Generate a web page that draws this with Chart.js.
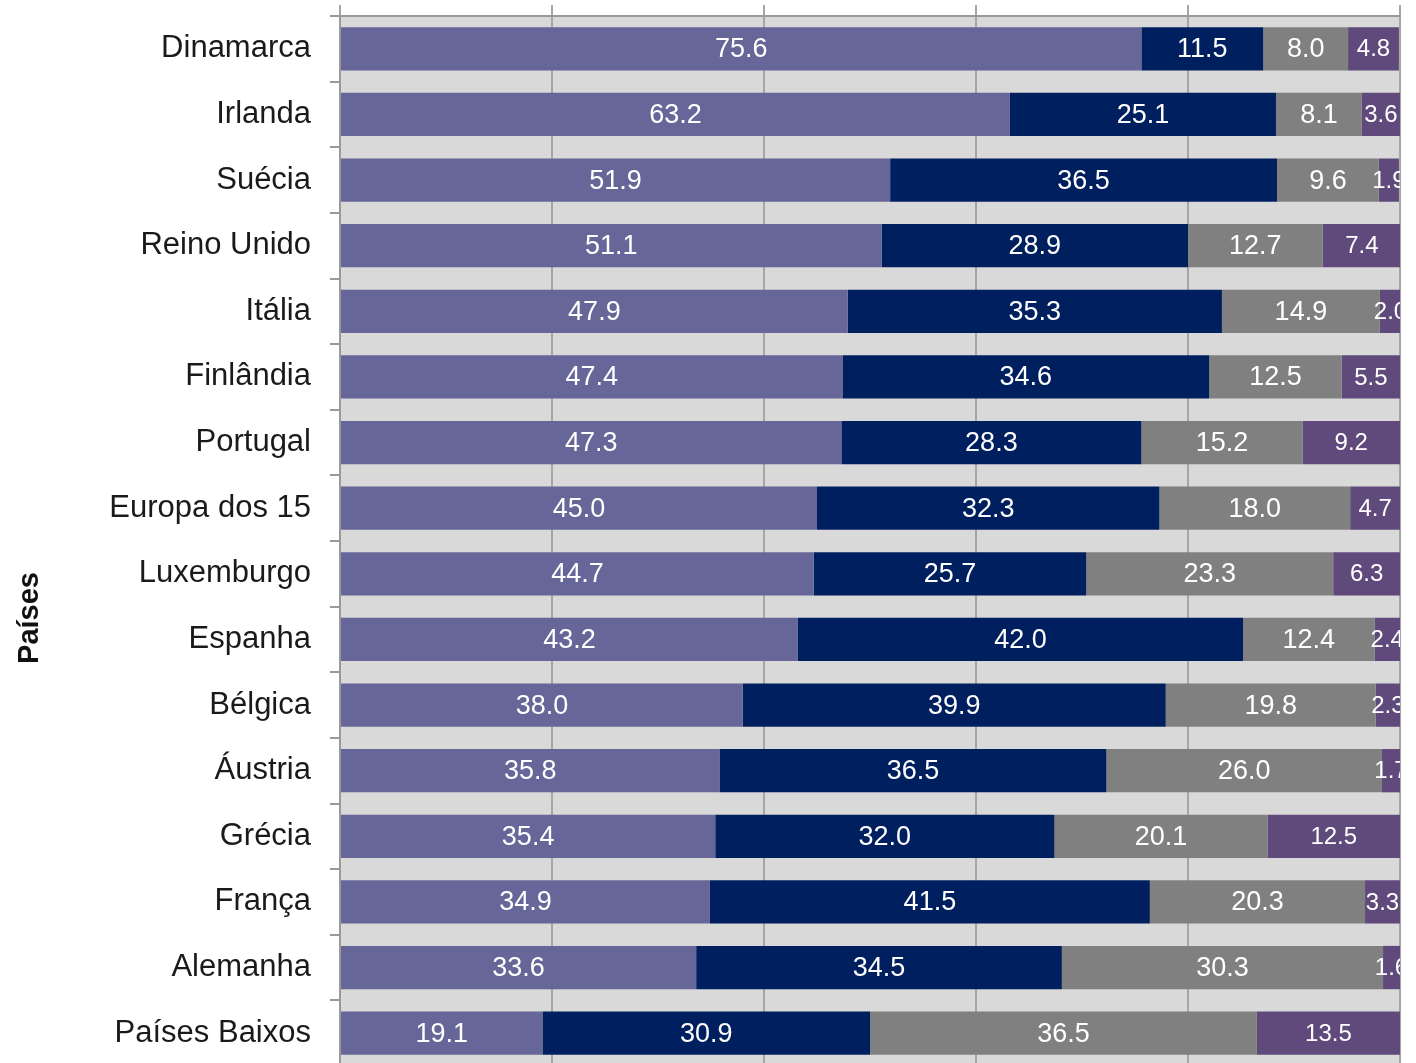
<!DOCTYPE html>
<html>
<head>
<meta charset="utf-8">
<script src="https://cdn.jsdelivr.net/npm/chart.js@4.4.0/dist/chart.umd.min.js"></script>
<style>
  html, body { margin: 0; padding: 0; background: #ffffff; overflow: hidden; }
  #wrap { position: relative; width: 1416px; height: 1066px; }
</style>
</head>
<body>
<div id="wrap"><canvas id="chart"></canvas></div>
<script>
// Countries, top to bottom
const paises = ['Dinamarca', 'Irlanda', 'Suécia', 'Reino Unido', 'Itália', 'Finlândia', 'Portugal',
    'Europa dos 15', 'Luxemburgo', 'Espanha', 'Bélgica', 'Áustria', 'Grécia', 'França', 'Alemanha', 'Países Baixos'];

// Four stacked shares (%) for each country
const serie1 = [75.6, 63.2, 51.9, 51.1, 47.9, 47.4, 47.3, 45.0, 44.7, 43.2, 38.0, 35.8, 35.4, 34.9, 33.6, 19.1];
const serie2 = [11.5, 25.1, 36.5, 28.9, 35.3, 34.6, 28.3, 32.3, 25.7, 42.0, 39.9, 36.5, 32.0, 41.5, 34.5, 30.9];
const serie3 = [8.0, 8.1, 9.6, 12.7, 14.9, 12.5, 15.2, 18.0, 23.3, 12.4, 19.8, 26.0, 20.1, 20.3, 30.3, 36.5];
const serie4 = [4.8, 3.6, 1.9, 7.4, 2.0, 5.5, 9.2, 4.7, 6.3, 2.4, 2.3, 1.7, 12.5, 3.3, 1.6, 13.5];

const eixoTitulo = 'Países';

// grey plot background
const plotBackground = {
    id: 'plotBackground',
    beforeDraw(chart) {
        const { ctx, chartArea: a } = chart;
        ctx.save();
        ctx.fillStyle = '#d9d9d9';
        ctx.fillRect(a.left, a.top, a.right - a.left, a.bottom - a.top);
        ctx.restore();
    }
};

// white value labels centred in each segment, clipped to the plot
const valueLabels = {
    id: 'valueLabels',
    afterDatasetsDraw(chart) {
        const { ctx, chartArea: a } = chart;
        ctx.save();
        ctx.beginPath();
        ctx.rect(a.left, a.top, a.right - a.left, a.bottom - a.top);
        ctx.clip();
        ctx.fillStyle = '#ffffff';
        ctx.textAlign = 'center';
        ctx.textBaseline = 'middle';
        chart.data.datasets.forEach((ds, di) => {
            const meta = chart.getDatasetMeta(di);
            ctx.font = (di === 3 ? '24px' : '27px') + ' "Liberation Sans", Arial, sans-serif';
            meta.data.forEach((bar, i) => {
                const x = (bar.x + bar.base) / 2;
                ctx.fillText(ds.data[i].toFixed(1), x, bar.y + 1);
            });
        });
        ctx.restore();
    }
};

// rotated axis title
const axisTitle = {
    id: 'axisTitle',
    afterDraw(chart) {
        const ctx = chart.ctx;
        ctx.save();
        ctx.translate(30, 618);
        ctx.rotate(-Math.PI / 2);
        ctx.font = 'bold 29px "Liberation Sans", Arial, sans-serif';
        ctx.fillStyle = '#111111';
        ctx.textAlign = 'center';
        ctx.textBaseline = 'middle';
        ctx.fillText(eixoTitulo, 0, 0);
        ctx.restore();
    }
};

const ctx = document.getElementById('chart').getContext('2d');
window.paisesChart = new Chart(ctx, {
    type: 'bar',
    data: {
        labels: paises,
        datasets: [{
            label: 'Série 1',
            data: serie1,
            backgroundColor: '#666699'
        }, {
            label: 'Série 2',
            data: serie2,
            backgroundColor: '#001f5f'
        }, {
            label: 'Série 3',
            data: serie3,
            backgroundColor: '#808080'
        }, {
            label: 'Série 4',
            data: serie4,
            backgroundColor: '#604a7b'
        }]
    },
    options: {
        indexAxis: 'y',
        responsive: true,
        maintainAspectRatio: false,
        animation: false,
        categoryPercentage: 1,
        barPercentage: 0.66,
        layout: {
            padding: { top: 5, right: 16, bottom: 0, left: 0 }
        },
        scales: {
            x: {
                position: 'top',
                stacked: true,
                min: 0,
                max: 100,
                ticks: {
                    display: false,
                    stepSize: 20
                },
                grid: {
                    color: '#a6a6a6',
                    lineWidth: 2,
                    drawTicks: true,
                    tickLength: 11
                },
                border: {
                    color: '#9a9a9a',
                    width: 2
                }
            },
            y: {
                stacked: true,
                afterFit: (scale) => {
                    scale.width = 340;
                    scale.paddingTop = 0;
                    scale.paddingBottom = 0;
                },
                ticks: {
                    padding: 19,
                    color: '#1a1a1a',
                    font: {
                        family: '"Liberation Sans", Arial, sans-serif',
                        size: 31
                    }
                },
                grid: {
                    drawOnChartArea: false,
                    color: '#9a9a9a',
                    lineWidth: 2,
                    tickLength: 10
                },
                border: {
                    color: '#9a9a9a',
                    width: 2
                }
            }
        },
        plugins: {
            legend: { display: false },
            tooltip: { enabled: false }
        }
    },
    plugins: [plotBackground, valueLabels, axisTitle]
});
</script>
</body>
</html>
